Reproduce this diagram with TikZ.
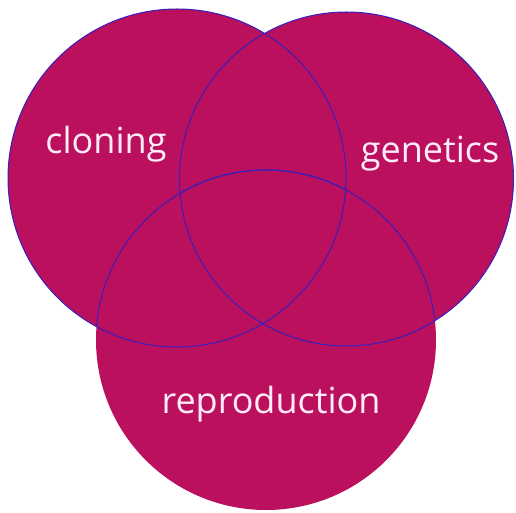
\documentclass[tikz,border=0pt]{standalone}
\usepackage{fontspec}
\setmainfont{Open Sans}
\usepackage{xcolor}
\definecolor{vennfill}{RGB}{186,16,94}
\definecolor{vennline}{RGB}{55,30,190}
\definecolor{venntext}{RGB}{255,236,246}

\begin{document}
\begin{tikzpicture}[x=1pt, y=1pt,
    setline/.style={draw=vennline, line width=1pt},
    setlabel/.style={text=venntext, anchor=base, font=\fontsize{36}{42}\selectfont}]
    \useasboundingbox (0,0) rectangle (516,512);

    % Filled sets
    \fill[vennfill] (177,334) circle (169);
    \fill[vennfill] (346.5,333) circle (167);
    \fill[vennfill] (266,172) circle (170);

    % Outlines of the upper sets
    \draw[setline] (177,334) circle (169);
    \draw[setline] (346.5,333) circle (167);

    % Lower set outline, only where it overlaps the upper sets
    \begin{scope}
        \clip (177,334) circle (169);
        \draw[setline] (266,172) circle (170);
    \end{scope}
    \begin{scope}
        \clip (346.5,333) circle (167);
        \draw[setline] (266,172) circle (170);
    \end{scope}

    % Labels
    \node[setlabel] (cloning) at (106,358) {cloning};
    \node[setlabel] (genetics) at (430,349) {genetics};
    \node[setlabel] (reproduction) at (271,99) {reproduction};
\end{tikzpicture}
\end{document}
